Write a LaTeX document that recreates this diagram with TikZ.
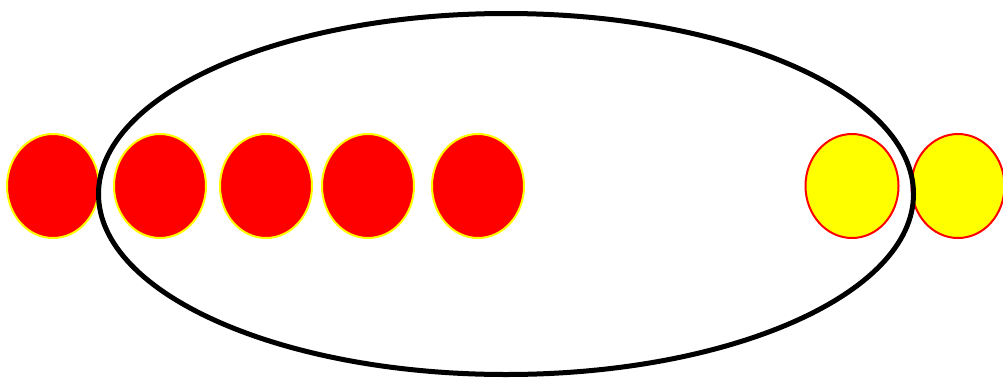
\documentclass[tikz,border=0pt]{standalone}
\usetikzlibrary{shapes.geometric}
\definecolor{ballRed}{HTML}{FF0000}
\definecolor{ballYellow}{HTML}{FFFF00}
\tikzset{
  redball/.style={ellipse, draw=ballYellow, fill=ballRed, line width=2pt, inner sep=0pt, minimum width=92pt, minimum height=104pt},
  yellowball/.style={ellipse, draw=ballRed, fill=ballYellow, line width=2pt, inner sep=0pt, minimum width=93pt, minimum height=104pt},
  bag/.style={ellipse, draw=black, line width=5pt, inner sep=0pt, minimum width=815pt, minimum height=361pt}
}
\begin{document}
\begin{tikzpicture}[x=1pt, y=-1pt]
        \useasboundingbox (0,0) rectangle (1003,378);
        \node[redball] (r1) at (53,186) {};
        \node[redball] (r2) at (160,186) {};
        \node[redball] (r3) at (266,186) {};
        \node[redball] (r4) at (368,186) {};
        \node[redball] (r5) at (478,186) {};
        \node[yellowball] (y1) at (852,186) {};
        \node[yellowball] (y2) at (958,186) {};
        \node[bag] (set) at (506,194) {};
      \end{tikzpicture}
\end{document}
